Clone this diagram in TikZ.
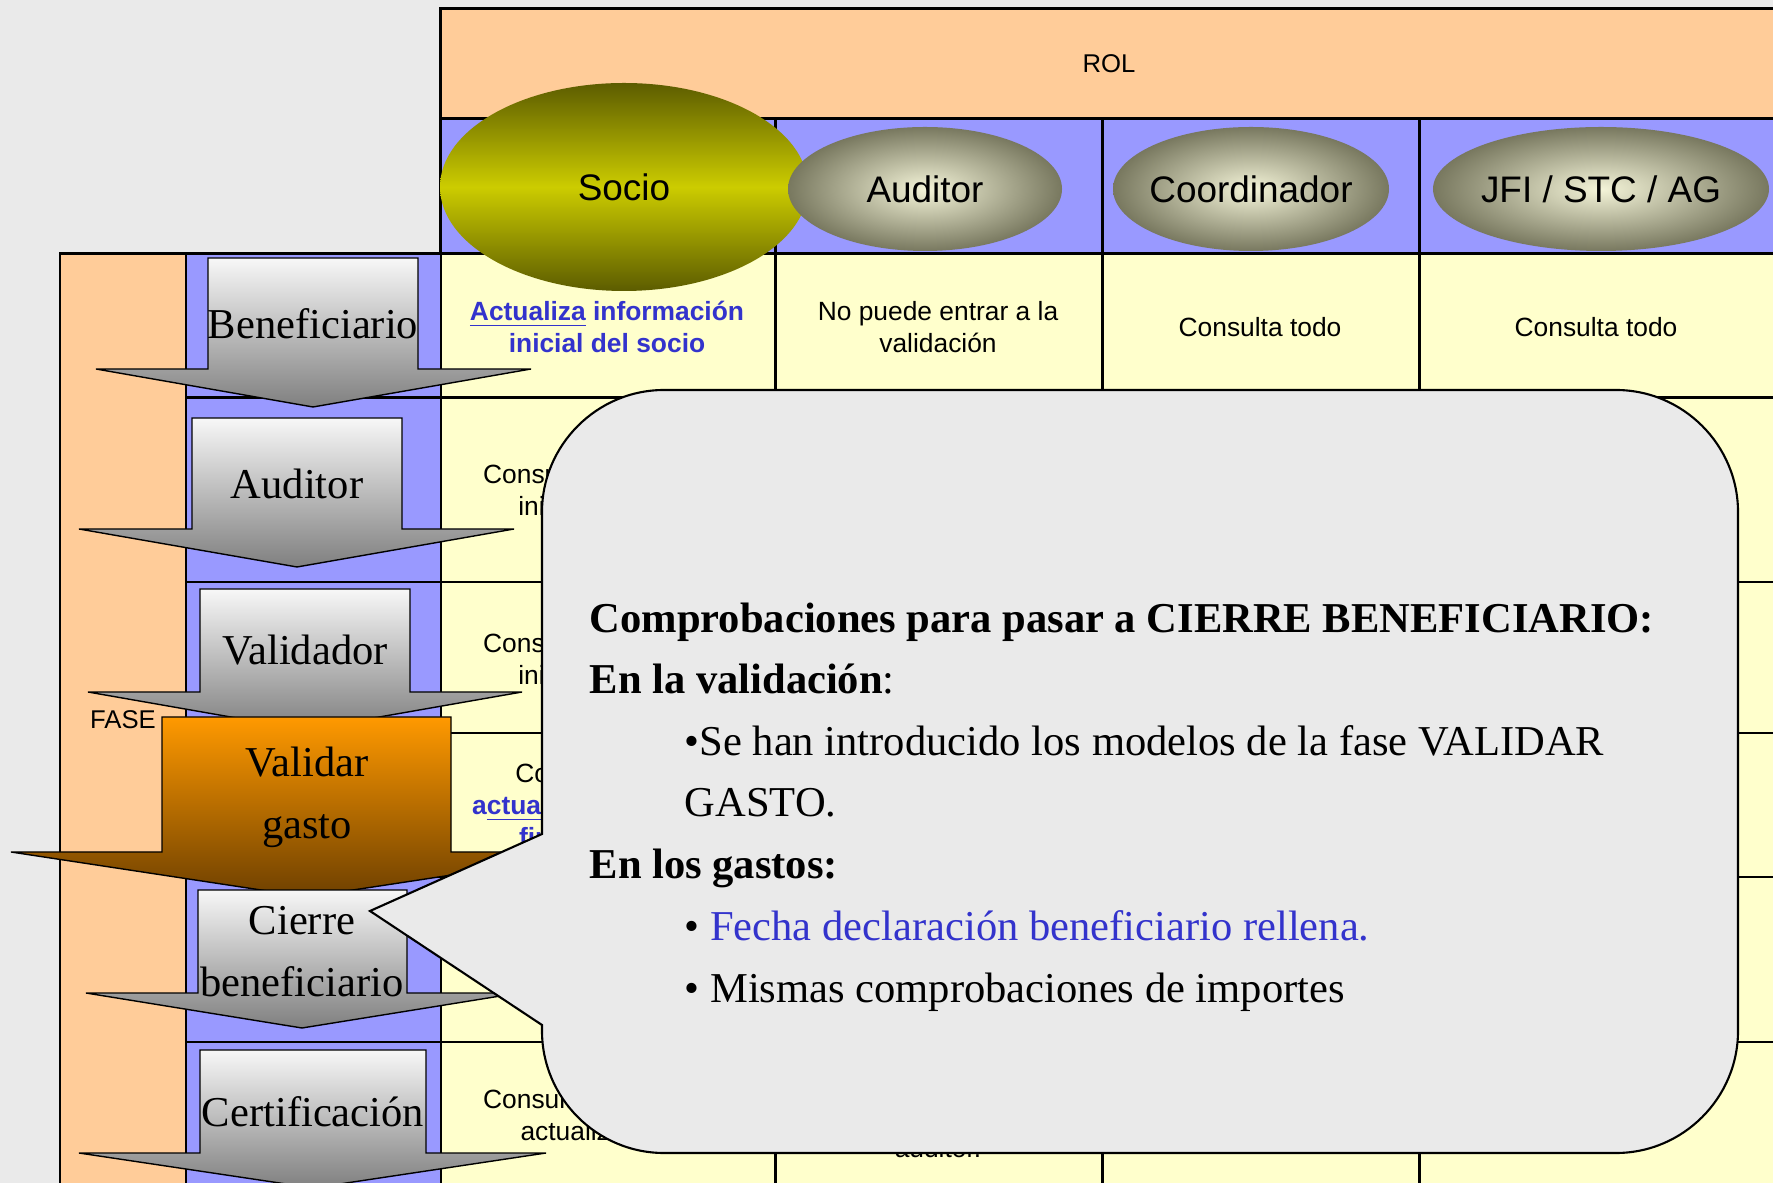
\documentclass[tikz,border=0pt]{standalone}
\usepackage{fontspec}
\setmainfont{Liberation Serif}
\setsansfont{Liberation Sans}

\definecolor{bggray}{HTML}{EAEAEA}
\definecolor{peach}{HTML}{FFCC99}
\definecolor{lavender}{HTML}{9999FF}
\definecolor{cellyellow}{HTML}{FFFFCC}
\definecolor{linkblue}{HTML}{3333CC}
\definecolor{olivedark}{HTML}{5C5C00}
\definecolor{olivelight}{HTML}{CCCC00}
\definecolor{ovalin}{HTML}{F4F4D8}
\definecolor{ovalout}{HTML}{78785F}
\definecolor{orangetop}{HTML}{FF9900}
\definecolor{orangebot}{HTML}{6E4000}

\tikzset{
  gridline/.style={line width=0.85pt},
  cell/.style={font=\sffamily\fontsize{7.5}{9.1}\selectfont, align=center},
  celllink/.style={cell, text=linkblue, font=\sffamily\bfseries\fontsize{7.5}{9.1}\selectfont},
  headtext/.style={font=\sffamily\fontsize{7.3}{9}\selectfont},
  ovalshade/.style={shading=radial, inner color=ovalin, outer color=ovalout},
  roletext/.style={font=\sffamily\fontsize{10.5}{12}\selectfont},
  phasearrow/.style={draw, line width=0.4pt, top color=white!97!black, bottom color=black!50},
  phasetext/.style={font=\fontsize{12.1}{17.6}\selectfont, align=center},
  bubble/.style={draw, fill=bggray, line width=0.6pt},
  bubbletext/.style={anchor=base west, inner sep=0pt, font=\fontsize{12.1}{17.5}\selectfont},
}

\begin{document}
\begin{tikzpicture}[x=0.01cm,y=-0.01cm]
\useasboundingbox (0,0) rectangle (1773,1183);
\clip (0,0) rectangle (1773,1183);

% background
\fill[bggray] (0,0) rectangle (1773,1183);

%% ROL table
\fill[peach] (440,9) rectangle (1790,119);
\fill[lavender] (440,119) rectangle (1790,254);
\fill[cellyellow] (440,254) rectangle (1790,1200);
\draw[gridline] (1790,9) -- (440,9) -- (440,1200);
\draw[gridline] (440,119) -- (1790,119);
\foreach \x in {775,1102,1419}
  \draw[gridline] (\x,119) -- (\x,1200);
\node[headtext] (rol) at (1109,64) {ROL};

%% FASE table
\fill[peach] (60,254) rectangle (186,1200);
\fill[lavender] (186,254) rectangle (440,1200);
\draw[gridline] (60,1200) -- (60,254) -- (1790,254);
\draw[gridline] (186,254) -- (186,1200);
\foreach \y in {398,582,733,877,1042}
  \draw[gridline] (186,\y) -- (1790,\y);
\node[headtext] (fase) at (123,720) {FASE};

%% cells
\node[celllink] (c11) at (607,327) {\underline{Actualiza} información\\inicial del socio};
\node[cell] (c12) at (938,327) {No puede entrar a la\\validación};
\node[cell] (c13) at (1260,327) {Consulta todo};
\node[cell] (c14) at (1596,327) {Consulta todo};
\node[cell] (c21) at (607,490) {Consulta información\\inicial del socio};
\node[cell] (c31) at (607,659) {Consulta información\\inicial del socio};
\node[cell] (c41) at (607,805) {Consulta todo y\\{\bfseries\color{linkblue}a\underline{ctualiza} información}\\{\bfseries\color{linkblue}final del socio}};
\node[cell] (c61) at (607,1115) {Consulta información\\actualiza socio};
\node[cell] (c62) at (938,1148) {auditor.};

%% roles
% Socio
\shade[top color=olivedark, bottom color=olivedark, middle color=olivelight]
  (624,187) ellipse [x radius=184, y radius=104];
\node[roletext] (socio) at (624,187) {Socio};

% Auditor
\shade[ovalshade] (925,189) ellipse [x radius=137, y radius=62];
\node[roletext] (auditor) at (925,189) {Auditor};

% Coordinador
\shade[ovalshade] (1251,189) ellipse [x radius=138, y radius=62];
\node[roletext] (coord) at (1251,189) {Coordinador};

% JFI / STC / AG
\shade[ovalshade] (1601,189) ellipse [x radius=168, y radius=62];
\node[roletext] (jfi) at (1601,189) {JFI / STC / AG};

%% phases
% Beneficiario
\draw[phasearrow] (208,258) -- (418,258) -- (418,369) -- (531,369) -- (313,407) -- (96,369) -- (208,369) -- cycle;
\node[phasetext] (benef) at (313,324) {Beneficiario};

% Auditor
\draw[phasearrow] (192,418) -- (402,418) -- (402,529) -- (514,529) -- (297,567) -- (79,529) -- (192,529) -- cycle;
\node[phasetext] (aud) at (297,484) {Auditor};

% Validador
\draw[phasearrow] (200,589) -- (410,589) -- (410,692) -- (522,692) -- (305,730) -- (88,692) -- (200,692) -- cycle;
\node[phasetext] (valid) at (305,650) {Validador};

% Validar gasto
\draw[phasearrow, top color=orangetop, bottom color=orangebot] (162,717) -- (451,717) -- (451,852) -- (603,852) -- (307,897) -- (11,852) -- (162,852) -- cycle;
\node[phasetext] (vgasto) at (307,797) {Validar\\gasto};

% Cierre beneficiario
\draw[phasearrow] (198,890) -- (407,890) -- (407,993) -- (519,993) -- (302,1028) -- (86,993) -- (198,993) -- cycle;
\node[phasetext] (cierre) at (302,952) {Cierre\\beneficiario};

% Certificacion
\draw[phasearrow] (200,1050) -- (426,1050) -- (426,1153) -- (546,1153) -- (313,1188) -- (79,1153) -- (200,1153) -- cycle;
\node[phasetext] (cert) at (313,1112) {Certificación};

%% callout
\draw[bubble] (542,834) -- (370,911) -- (542,1025) -- (542,1031)
  .. controls (542,1098) and (597,1153) .. (664,1153) -- (1616,1153)
  .. controls (1683,1153) and (1738,1098) .. (1738,1031) -- (1738,512)
  .. controls (1738,445) and (1683,390) .. (1616,390) -- (664,390)
  .. controls (597,390) and (542,445) .. (542,512) -- cycle;

\node[bubbletext] (chk1) at (589,633) {\textbf{Comprobaciones para pasar a CIERRE BENEFICIARIO:}};
\node[bubbletext] (chk2) at (589,694) {\textbf{En la validación}:};
\node[bubbletext] (chk3) at (684,756) {•Se han introducido los modelos de la fase VALIDAR};
\node[bubbletext] (chk4) at (684,817) {GASTO.};
\node[bubbletext] (chk5) at (589,879) {\textbf{En los gastos:}};
\node[bubbletext] (chk6) at (684,940) {• \textcolor{linkblue}{Fecha declaración beneficiario rellena.}};
\node[bubbletext] (chk7) at (684,1002) {• Mismas comprobaciones de importes};

\end{tikzpicture}
\end{document}
